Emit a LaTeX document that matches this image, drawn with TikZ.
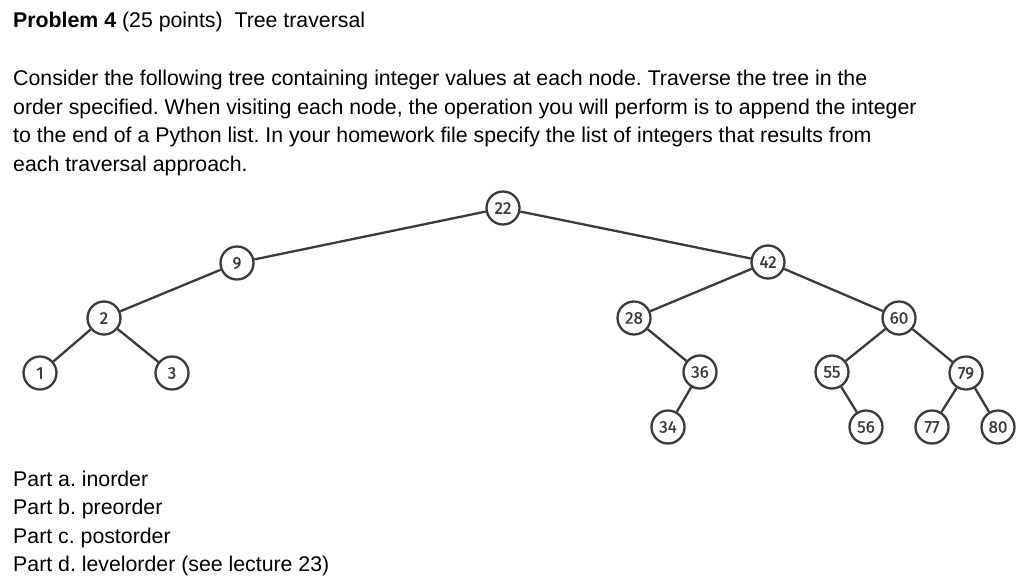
\documentclass[tikz,border=0pt]{standalone}
\usepackage{fontspec}
\setmainfont{Liberation Sans}
\newfontfamily\treefont[FakeBold=0.8]{Fira Sans}
\usetikzlibrary{positioning}

\definecolor{ink}{HTML}{3A3A3A}

\tikzset{
	txt/.style={anchor=base west, inner sep=0pt, font=\fontsize{21.3}{25}\selectfont},
	key/.style={circle, draw=ink, line width=2.3pt, fill=white, minimum size=33pt, inner sep=0pt, text=ink, font=\treefont\fontsize{17}{19}\selectfont},
	branch/.style={draw=ink, line width=2.3pt}
}

\frenchspacing
\begin{document}
\begin{tikzpicture}[x=1pt, y=-1pt]
	\useasboundingbox (0,0) rectangle (1024,587);

	\node[txt] (title) at (13,27) {\textbf{Problem 4} (25 points)\ \ Tree traversal};

	\node[txt] (l1) at (13,85.5) {Consider the following tree containing integer values at each node. Traverse the tree in the};
	\node[txt] (l2) at (13,114) {order specified. When visiting each node, the operation you will perform is to append the integer};
	\node[txt] (l3) at (13,142.5) {to the end of a Python list. In your homework file specify the list of integers that results from};
	\node[txt] (l4) at (13,171) {each traversal approach.};

	% the tree
	\node[key] (n22) at (503,208) {22};
	\node[key] (n9)  at (237,263) {9};
	\node[key] (n42) at (768,262) {42};
	\node[key] (n2)  at (104,318) {2};
	\node[key] (n1)  at (40,373)  {1};
	\node[key] (n3)  at (172,373) {3};
	\node[key] (n28) at (634,318) {28};
	\node[key] (n36) at (700,372) {36};
	\node[key] (n34) at (668,427) {34};
	\node[key] (n60) at (899,318) {60};
	\node[key] (n55) at (832,372) {55};
	\node[key] (n56) at (866,427) {56};
	\node[key] (n79) at (966,373) {79};
	\node[key] (n77) at (932,427) {77};
	\node[key] (n80) at (998,427) {80};

	\draw [branch]
		(n22) edge (n9)
		(n22) edge (n42)
		(n9)  edge (n2)
		(n2)  edge (n1)
		(n2)  edge (n3)
		(n42) edge (n28)
		(n42) edge (n60)
		(n28) edge (n36)
		(n36) edge (n34)
		(n60) edge (n55)
		(n60) edge (n79)
		(n55) edge (n56)
		(n79) edge (n77)
		(n79) edge (n80)
		;

	\node[txt] (pa) at (13,486)   {Part a. inorder};
	\node[txt] (pb) at (13,514.5) {Part b. preorder};
	\node[txt] (pc) at (13,543)   {Part c. postorder};
	\node[txt] (pd) at (13,571.5) {Part d. levelorder (see lecture 23)};
\end{tikzpicture}
\end{document}
